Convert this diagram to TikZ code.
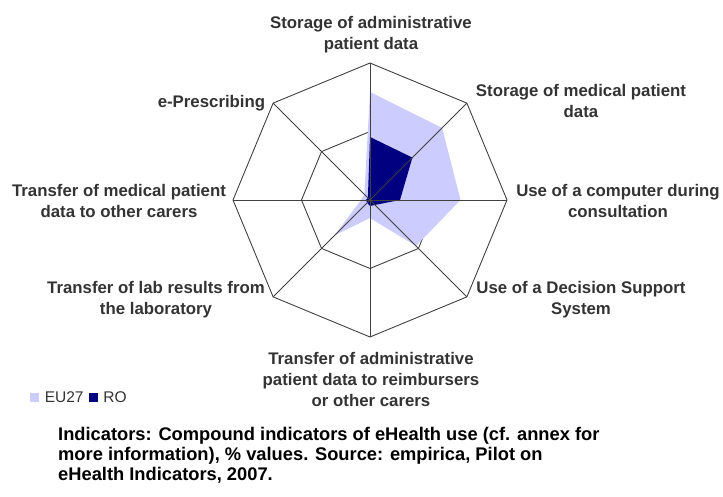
\documentclass[tikz,border=0pt]{standalone}
\usepackage{fontspec}
\setmainfont{Liberation Sans}
\usetikzlibrary{positioning}
\definecolor{gridgray}{HTML}{404040}
\definecolor{labelgray}{HTML}{333333}
\definecolor{eucol}{HTML}{CCCCFF}
\definecolor{rocol}{HTML}{000080}
\tikzstyle{axislabel} = [font=\fontsize{16.8}{21}\selectfont\bfseries, text=labelgray, align=center, inner sep=0pt]
\tikzstyle{gridline} = [draw=gridgray, line width=0.9pt]
\tikzstyle{legendbox} = [minimum size=9pt, inner sep=0pt]
\tikzstyle{legendtext} = [font=\fontsize{15.5}{18}\selectfont, text=labelgray, inner sep=0pt]
\tikzstyle{note} = [font=\fontsize{18.3}{20}\selectfont\bfseries, align=left, inner sep=0pt]

\begin{document}
\begin{tikzpicture}[x=1pt, y=1pt]
    \useasboundingbox (-370,-296) rectangle (353,200);
    \coordinate (c) at (0,0);
    % outer ring
    \coordinate (o1) at (90:137);
    \coordinate (o2) at (45:137);
    \coordinate (o3) at (0:137);
    \coordinate (o4) at (-45:137);
    \coordinate (o5) at (-90:137);
    \coordinate (o6) at (-135:137);
    \coordinate (o7) at (180:137);
    \coordinate (o8) at (135:137);
    % inner ring
    \coordinate (i1) at (90:68.5);
    \coordinate (i2) at (45:68.5);
    \coordinate (i3) at (0:68.5);
    \coordinate (i4) at (-45:68.5);
    \coordinate (i5) at (-90:68.5);
    \coordinate (i6) at (-135:68.5);
    \coordinate (i7) at (180:68.5);
    \coordinate (i8) at (135:68.5);
    \draw [gridline] (i1) -- (i2) -- (i3) -- (i4) -- (i5) -- (i6) -- (i7) -- (i8) -- cycle;
    % EU27
    \fill [eucol] (90:108) -- (45:102) -- (0:90.5) -- (-45:65) -- (-90:18) -- (-135:50) -- (180:9) -- (135:8) -- cycle;
    % RO
    \fill [rocol] (90:63) -- (45:60) -- (0:30) -- (-45:7) -- (-90:6) -- (-135:4) -- (180:4) -- (135:3) -- cycle;
    \draw [gridline] (o1) -- (o2) -- (o3) -- (o4) -- (o5) -- (o6) -- (o7) -- (o8) -- cycle;
    \draw [gridline] (c) -- (o1);
    \draw [gridline] (c) -- (o2);
    \draw [gridline] (c) -- (o3);
    \draw [gridline] (c) -- (o4);
    \draw [gridline] (c) -- (o5);
    \draw [gridline] (c) -- (o6);
    \draw [gridline] (c) -- (o7);
    \draw [gridline] (c) -- (o8);
    % axis labels
    \node (adminstore) [axislabel] at (1,165) {Storage of administrative\\patient data};
    \node (medstore) [axislabel] at (211,99) {Storage of medical patient\\data};
    \node (computer) [axislabel] at (248,-1) {Use of a computer during\\consultation};
    \node (decision) [axislabel] at (211,-100) {Use of a Decision Support\\System};
    \node (admintransfer) [axislabel] at (1,-179) {Transfer of administrative\\patient data to reimbursers\\or other carers};
    \node (labtransfer) [axislabel] at (-214,-100) {Transfer of lab results from\\the laboratory};
    \node (medtransfer) [axislabel] at (-251,-1) {Transfer of medical patient\\data to other carers};
    \node (prescribing) [axislabel] at (-158.5,97) {e-Prescribing};
    % legend
    \node (robox) [legendbox, fill=rocol] at (-276.5,-197) {};
    \node (rotext) [legendtext, right=5pt of robox] {RO};
    \node (eutext) [legendtext, left=5pt of robox] {EU27};
    \node (eubox) [legendbox, fill=eucol, left=5pt of eutext] {};
    \node (source) [note, anchor=base west] at (-312,-280) {Indicators: Compound indicators of eHealth use (cf. annex for\\more information), \% values. Source: empirica, Pilot on\\eHealth Indicators, 2007.};
\end{tikzpicture}
\end{document}
